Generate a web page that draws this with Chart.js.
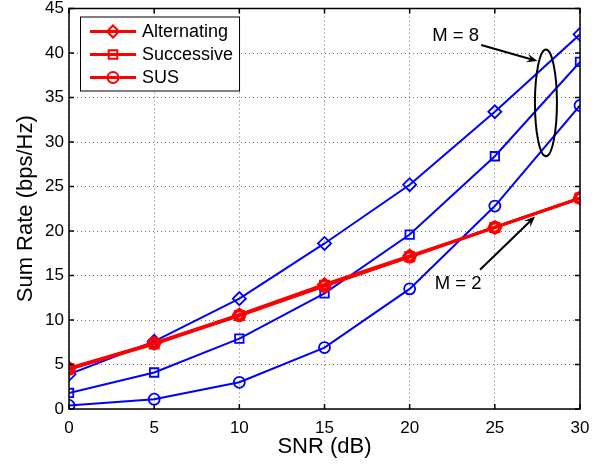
<!DOCTYPE html>
<html lang="en">
<head>
  <meta charset="UTF-8">
  <title>Sum Rate vs SNR</title>
  <script src="https://cdn.jsdelivr.net/npm/chart.js"></script>
  <style>
    body { margin: 0; background: #fff; }
    #wrap { width: 603px; height: 466px; }
  </style>
</head>
<body>
  <div id="wrap"><canvas id="grafico" width="603" height="466"></canvas></div>

  <script>
    // dados
    const snr = [0, 5, 10, 15, 20, 25, 30];

    // M = 2 (vermelho)
    const alt2 = [4.6, 7.4, 10.6, 14.0, 17.2, 20.4, 23.7];
    const suc2 = [4.5, 7.3, 10.5, 13.9, 17.1, 20.4, 23.7];
    const sus2 = [4.5, 7.4, 10.5, 13.8, 17.1, 20.4, 23.7];

    // M = 8 (azul)
    const alt8 = [3.9, 7.6, 12.4, 18.6, 25.2, 33.4, 42.1];
    const suc8 = [1.8, 4.1, 7.9, 13.0, 19.6, 28.4, 39.0];
    const sus8 = [0.4, 1.1, 3.0, 6.9, 13.5, 22.8, 34.1];

    const nomes = ['Alternating', 'Successive', 'SUS'];
    const xTicks = [0, 5, 10, 15, 20, 25, 30];
    const yTicks = [0, 5, 10, 15, 20, 25, 30, 35, 40, 45];

    const FONTE = "'Liberation Sans', Arial, sans-serif";
    const pts = arr => snr.map((x, i) => ({x, y: arr[i]}));

    function serie(label, arr, cor, estilo, larg, raio) {
      return {
        label, data: pts(arr),
        borderColor: cor, backgroundColor: 'rgba(0,0,0,0)',
        borderWidth: larg, pointStyle: estilo,
        pointRadius: raio, pointBorderWidth: larg === 3 ? 2.5 : 1.8,
        pointBorderColor: cor, pointBackgroundColor: 'rgba(0,0,0,0)',
        tension: 0
      };
    }

    // moldura + ticks internos estilo matlab
    const moldura = {
      id: 'moldura',
      afterDraw(chart) {
        const {ctx, chartArea: a, scales: {x, y}} = chart;
        ctx.save();
        ctx.strokeStyle = '#000';
        ctx.lineWidth = 1.5;
        ctx.strokeRect(a.left, a.top, a.right - a.left, a.bottom - a.top);
        ctx.beginPath();
        xTicks.forEach(v => {
          const px = x.getPixelForValue(v);
          ctx.moveTo(px, a.bottom); ctx.lineTo(px, a.bottom - 5);
          ctx.moveTo(px, a.top); ctx.lineTo(px, a.top + 5);
        });
        yTicks.forEach(v => {
          const py = y.getPixelForValue(v);
          ctx.moveTo(a.left, py); ctx.lineTo(a.left + 5, py);
          ctx.moveTo(a.right, py); ctx.lineTo(a.right - 5, py);
        });
        ctx.stroke();
        ctx.restore();
      }
    };

    function seta(ctx, x1, y1, x2, y2) {
      const ang = Math.atan2(y2 - y1, x2 - x1);
      const L = 11, W = 4.5;
      ctx.beginPath();
      ctx.moveTo(x1, y1);
      ctx.lineTo(x2 - Math.cos(ang) * 4, y2 - Math.sin(ang) * 4);
      ctx.stroke();
      ctx.beginPath();
      ctx.moveTo(x2, y2);
      ctx.lineTo(x2 - L * Math.cos(ang) + W * Math.sin(ang), y2 - L * Math.sin(ang) - W * Math.cos(ang));
      ctx.lineTo(x2 - 0.6 * L * Math.cos(ang), y2 - 0.6 * L * Math.sin(ang));
      ctx.lineTo(x2 - L * Math.cos(ang) - W * Math.sin(ang), y2 - L * Math.sin(ang) + W * Math.cos(ang));
      ctx.closePath();
      ctx.fill();
    }

    // anotações M = 8 / M = 2
    const anotacoes = {
      id: 'anotacoes',
      afterDraw(chart) {
        const {ctx, scales: {x, y}} = chart;
        const X = v => x.getPixelForValue(v), Y = v => y.getPixelForValue(v);
        ctx.save();
        ctx.fillStyle = '#000';
        ctx.strokeStyle = '#000';
        ctx.font = '18.5px ' + FONTE;
        ctx.textAlign = 'center';
        ctx.textBaseline = 'middle';
        ctx.fillText('M = 8', X(22.7), Y(41.9));
        ctx.fillText('M = 2', X(22.85), Y(14.0));
        ctx.lineWidth = 2;
        seta(ctx, X(24.2), Y(40.9), X(27.5), Y(39.1));
        seta(ctx, X(24.13), Y(15.65), X(27.36), Y(21.64));
        ctx.beginPath();
        const cy = Y(34.4);
        ctx.ellipse(X(28.0), cy, 11, Math.abs(Y(40.4) - cy), 0, 0, Math.PI * 2);
        ctx.stroke();
        ctx.restore();
      }
    };

    function marcador(ctx, estilo, cx, cy) {
      ctx.beginPath();
      if (estilo === 'rectRot') {
        ctx.moveTo(cx - 6, cy); ctx.lineTo(cx, cy - 6); ctx.lineTo(cx + 6, cy); ctx.lineTo(cx, cy + 6);
        ctx.closePath();
      } else if (estilo === 'rect') {
        ctx.rect(cx - 4.3, cy - 4.3, 8.6, 8.6);
      } else {
        ctx.arc(cx, cy, 5.5, 0, Math.PI * 2);
      }
      ctx.stroke();
    }

    // legenda desenhada à mão (linha + marcador)
    const legenda = {
      id: 'legenda',
      afterDraw(chart) {
        const {ctx, chartArea: a} = chart;
        const estilos = ['rectRot', 'rect', 'circle'];
        ctx.save();
        ctx.font = '18px ' + FONTE;
        const larg = Math.max(...nomes.map(n => ctx.measureText(n).width));
        const bx = a.left + 11, by = a.top + 8;
        const bw = 62 + larg + 6, bh = 74;
        ctx.fillStyle = '#fff';
        ctx.fillRect(bx, by, bw, bh);
        ctx.strokeStyle = '#000';
        ctx.lineWidth = 1;
        ctx.strokeRect(bx + 0.5, by + 0.5, bw, bh);
        nomes.forEach((n, i) => {
          const ry = by + 15 + i * 23;
          ctx.strokeStyle = '#ff0000';
          ctx.lineWidth = 3;
          ctx.beginPath();
          ctx.moveTo(bx + 10, ry); ctx.lineTo(bx + 56, ry);
          ctx.stroke();
          ctx.lineWidth = 2;
          marcador(ctx, estilos[i], bx + 33, ry);
          ctx.fillStyle = '#000';
          ctx.textAlign = 'left';
          ctx.textBaseline = 'middle';
          ctx.fillText(n, bx + 62, ry + 1);
        });
        ctx.restore();
      }
    };

    const grafico = new Chart(document.getElementById('grafico'), {
      type: 'line',
      data: {
        datasets: [
          serie(nomes[0], alt2, '#ff0000', 'rectRot', 3, 6),
          serie(nomes[1], suc2, '#ff0000', 'rect', 3, 6),
          serie(nomes[2], sus2, '#ff0000', 'circle', 3, 5.5),
          serie(nomes[0], alt8, '#0000ff', 'rectRot', 2, 6.5),
          serie(nomes[1], suc8, '#0000ff', 'rect', 2, 6),
          serie(nomes[2], sus8, '#0000ff', 'circle', 2, 5.5)
        ]
      },
      options: {
        responsive: false,
        animation: false,
        layout: { padding: { top: 7, right: 23, left: 0, bottom: 0 } },
        plugins: { legend: { display: false }, tooltip: { enabled: false } },
        scales: {
          x: {
            type: 'linear', min: 0, max: 30,
            afterBuildTicks: s => { s.ticks = xTicks.map(v => ({value: v})); },
            afterFit: s => { s.height = 57; s.paddingLeft = 0; s.paddingRight = 0; },
            ticks: { color: '#000', font: { family: FONTE, size: 17 }, padding: 9, maxRotation: 0 },
            grid: { color: 'rgba(0,0,0,0.55)', drawTicks: false, lineWidth: 1 },
            border: { display: false, dash: [1, 3] },
            title: { display: true, text: 'SNR (dB)', color: '#000',
                     font: { family: FONTE, size: 22 }, padding: { top: 6, bottom: 6 } }
          },
          y: {
            min: 0, max: 45,
            afterBuildTicks: s => { s.ticks = yTicks.map(v => ({value: v})); },
            afterFit: s => { s.width = 69; s.paddingTop = 0; s.paddingBottom = 0; },
            ticks: { color: '#000', font: { family: FONTE, size: 17 }, padding: 5 },
            grid: { color: 'rgba(0,0,0,0.55)', drawTicks: false, lineWidth: 1 },
            border: { display: false, dash: [1, 3] },
            title: { display: true, text: 'Sum Rate (bps/Hz)', color: '#000',
                     font: { family: FONTE, size: 22 }, padding: { top: 12.5, bottom: 12.5 } }
          }
        }
      },
      plugins: [moldura, anotacoes, legenda]
    });
  </script>
</body>
</html>
